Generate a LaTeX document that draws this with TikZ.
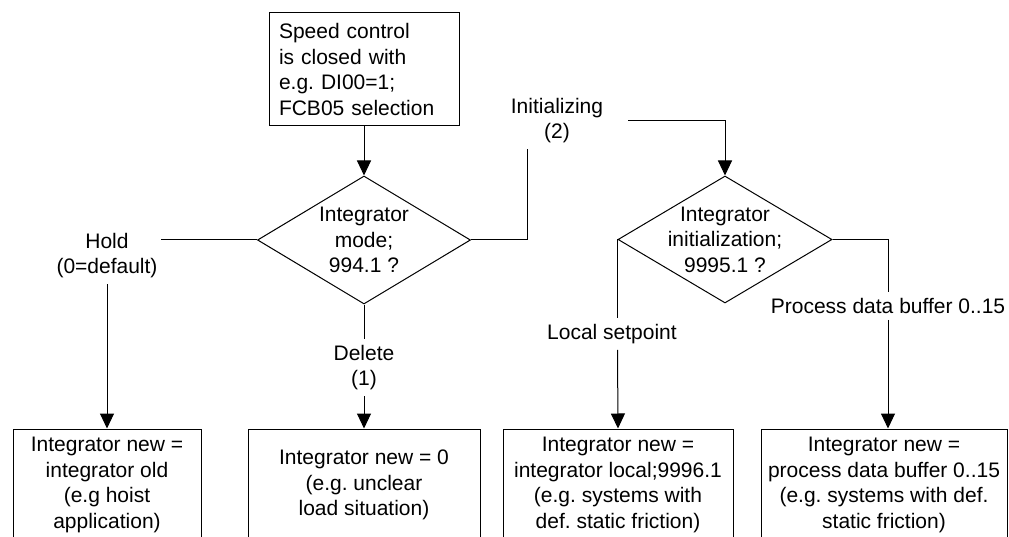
\documentclass[tikz,border=0pt]{standalone}
\usepackage{fontspec}
\setmainfont{Liberation Sans}
\usetikzlibrary{positioning,shapes.geometric,arrows.meta}
\frenchspacing

\begin{document}
\begin{tikzpicture}[x=1pt, y=-1pt, font=\fontsize{21}{25.5}\selectfont,
      box/.style={draw, line width=1pt, align=center, inner sep=0pt, minimum height=112pt},
      decision/.style={draw, diamond, line width=1pt, inner sep=0pt,
                       minimum width=213pt, minimum height=128pt},
      txt/.style={align=center, inner sep=0pt},
      lbl/.style={align=center, inner xsep=3pt, inner ysep=6pt},
      arr/.style={-{Triangle[width=14pt,length=15pt]}, line width=1pt},
      con/.style={line width=1pt}]
    \useasboundingbox (0,0) rectangle (1009,537);
    \clip (0,0) rectangle (1009,537);
    \node[box, align=left, text width=170pt, inner xsep=10pt, minimum height=113pt] (start) at (364,69.5)
      {Speed control\\is closed with\\e.g. DI00=1;\\FCB05 selection};
    \node[decision] (dia1) at (364,240) {};
    \node[txt] (dia1txt) at (dia1) {Integrator\\mode;\\994.1 ?};
    \node[decision, minimum width=214pt, minimum height=127pt] (dia2) at (725,239.5) {};
    \node[txt] (dia2txt) at (dia2) {Integrator\\initialization;\\9995.1 ?};
    \node[box, minimum width=188pt] (old) at (107,485)
      {Integrator new =\\integrator old\\(e.g hoist\\application)};
    \node[box, minimum width=232pt] (zero) at (364,485)
      {Integrator new = 0\\(e.g. unclear\\load situation)};
    \node[box, minimum width=230pt] (local) at (618,485)
      {Integrator new =\\integrator local;9996.1\\(e.g. systems with\\def. static friction)};
    \node[box, minimum width=246pt] (buffer) at (884,485)
      {Integrator new =\\process data buffer 0..15\\(e.g. systems with def.\\static friction)};
    \node[lbl] (hold) at (107,255.5) {Hold\\(0=default)};
    \node[lbl] (del) at (364,367.5) {Delete\\(1)};
    \node[lbl] (init) at (557,120.5) {Initializing\\(2)};
    \node[lbl] (lsp) at (612,334) {Local setpoint};
    \node[lbl] (pdb) at (888,306) {Process data buffer 0..15};
    \draw[arr] (start) -- (dia1);
    \draw[con] (dia1.west) -- (dia1.west -| hold.east);
    \draw[arr] (hold.south) -- (old.north);
    \draw[con] (dia1.south) -- (del);
    \draw[arr] (del) -- (zero.north);
    \draw[con] (dia1.east) -| ([xshift=-30pt]init.south);
    \draw[arr] ([xshift=22pt]init.east) -| (dia2.north);
    \draw[con] (dia2.west) -- (dia2.west |- lsp.north);
    \draw[arr] (dia2.west |- lsp.south) -- (local.north);
    \draw[con] (dia2.east) -| (pdb.north);
    \draw[arr] (pdb.south) -- (pdb.south |- buffer.north);
  \end{tikzpicture}
\end{document}
